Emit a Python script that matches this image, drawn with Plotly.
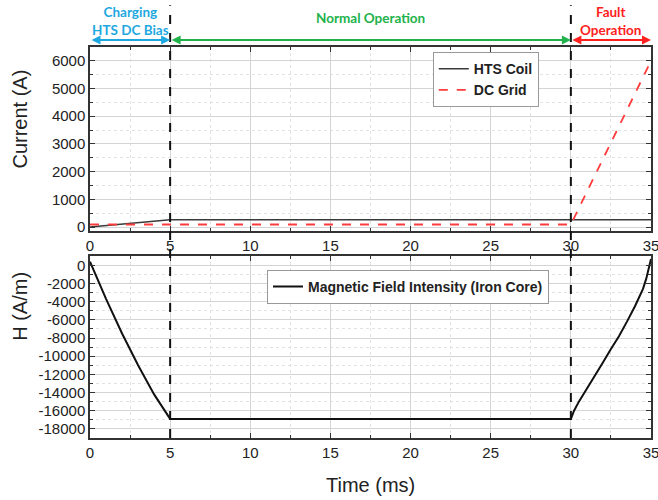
import plotly.graph_objects as go
from plotly.subplots import make_subplots

# ---- data ----
t_hts = [0, 5, 30, 35]
i_hts = [0, 260, 260, 260]
t_grid = [0, 5, 30, 35]
i_grid = [90, 90, 90, 6000]
t_h = [0, 1, 2, 3, 4, 5, 30, 30.2, 30.5, 31, 31.5, 32, 32.5, 33, 33.5, 34, 34.5, 34.7, 35]
h_val = [400, -3700, -7500, -11000, -14200, -16900, -16900, -16000, -15000, -13600,
         -12200, -10700, -9200, -7800, -6200, -4500, -2600, -1500, 700]
x_ticks = [0, 5, 10, 15, 20, 25, 30, 35]
y1_ticks = [0, 1000, 2000, 3000, 4000, 5000, 6000]
y2_ticks = [0, -2000, -4000, -6000, -8000, -10000, -12000, -14000, -16000, -18000]
phases = ["Charging<br>HTS DC Bias", "Normal Operation", "Fault<br>Operation"]
phase_bounds = [0, 5, 30, 35]

fig = make_subplots(rows=2, cols=1, shared_xaxes=False, vertical_spacing=0.0)

fig.add_trace(go.Scatter(x=t_hts, y=i_hts, mode="lines", name="HTS Coil",
                         line=dict(color="#3a3a3a", width=1.5), legend="legend"), row=1, col=1)
fig.add_trace(go.Scatter(x=t_grid, y=i_grid, mode="lines", name="DC Grid",
                         line=dict(color="#ff3b3b", width=1.8, dash="dash"), legend="legend"), row=1, col=1)
fig.add_trace(go.Scatter(x=t_h, y=h_val, mode="lines", name="Magnetic Field Intensity (Iron Core)",
                         line=dict(color="#111111", width=2), legend="legend2"), row=2, col=1)

tickfont = dict(family="Liberation Sans, Arial", size=15, color="#222")
titlefont = dict(family="Liberation Sans, Arial", size=20, color="#222")
common_axis = dict(showline=True, linecolor="#333", linewidth=1.5, mirror="allticks",
                   ticks="inside", ticklen=5, tickcolor="#333", tickwidth=1.3,
                   showgrid=True, gridcolor="#d4d4d4", gridwidth=1, zeroline=False,
                   tickfont=tickfont, automargin=False, ticklabeloverflow="allow")

xcommon = dict(common_axis, range=[0, 35], tickvals=x_ticks, ticktext=[str(v) for v in x_ticks],
               minor=dict(dtick=2.5, tick0=0, ticks="inside", ticklen=3, tickcolor="#333",
                          showgrid=True, gridcolor="#e2e2e2", griddash="dot"))
fig.update_xaxes(xcommon, row=1, col=1)
fig.update_xaxes(xcommon, row=2, col=1)
fig.update_yaxes(common_axis, row=1, col=1, range=[-150, 6500], tickvals=y1_ticks,
                 ticktext=[str(v) for v in y1_ticks],
                 minor=dict(dtick=500, tick0=0, ticks="inside", ticklen=3, tickcolor="#333",
                            showgrid=True, gridcolor="#e2e2e2", griddash="dot"))
fig.update_yaxes(common_axis, row=2, col=1, range=[-19000, 1000], tickvals=y2_ticks,
                 ticktext=[str(v) for v in y2_ticks],
                 minor=dict(dtick=1000, tick0=0, ticks="inside", ticklen=3, tickcolor="#333",
                            showgrid=True, gridcolor="#e2e2e2", griddash="dot"))

fig.layout.yaxis.domain = [0.529, 1.0]
fig.layout.yaxis2.domain = [0.0, 0.465]

# axis titles
fig.add_annotation(text="Current (A)", xref="paper", yref="paper", x=-0.1248, y=0.817,
                   textangle=-90, showarrow=False, font=titlefont, xanchor="center", yanchor="middle")
fig.add_annotation(text="H (A/m)", xref="paper", yref="paper", x=-0.1248, y=0.338,
                   textangle=-90, showarrow=False, font=titlefont, xanchor="center", yanchor="middle")
fig.add_annotation(text="Time (ms)", xref="x2", yref="paper", x=17.5, y=-0.120,
                   showarrow=False, font=titlefont, xanchor="center", yanchor="middle")

# vertical dashed phase lines
for xb in phase_bounds[1:3]:
    fig.add_shape(type="line", xref="x", yref="paper", x0=xb, x1=xb, y0=0, y1=1.107,
                  line=dict(color="#111", width=2, dash="dash"), layer="above")

colors = ["#1ea8e0", "#21b24b", "#ff2020"]
text_y = [1.019, 1.074, 1.019]
text_anchor = ["bottom", "middle", "bottom"]
for k in range(3):
    x0, x1 = phase_bounds[k], phase_bounds[k + 1]
    fig.add_annotation(x=x1, y=1.018, xref="x", yref="paper", ax=x0, ay=0, axref="x", ayref="pixel",
                       showarrow=True, arrowhead=2, startarrowhead=2, arrowside="end+start",
                       arrowsize=0.9, startarrowsize=0.9, arrowwidth=2, arrowcolor=colors[k], text="")
    fig.add_annotation(x=(x0 + x1) / 2, y=text_y[k], xref="x", yref="paper", showarrow=False,
                       text="<b>" + phases[k] + "</b>", yanchor=text_anchor[k],
                       font=dict(family="Lato", size=13.5, color=colors[k]))

legfont = dict(family="Liberation Sans, Arial", size=14, color="#222", weight="bold")
fig.update_layout(
    width=658, height=500,
    margin=dict(l=90, r=7, t=47, b=62, autoexpand=False),
    paper_bgcolor="white", plot_bgcolor="white",
    legend=dict(x=0.611, y=0.987, xanchor="left", yanchor="top", bgcolor="white",
                bordercolor="#999", borderwidth=1, font=legfont,
                tracegroupgap=0, itemwidth=30),
    legend2=dict(x=0.3155, y=0.43, xanchor="left", yanchor="top", bgcolor="white",
                 bordercolor="#999", borderwidth=1, font=legfont, itemwidth=30),
    showlegend=True,
)

fig.write_html("out.html", config={"displayModeBar": False},
               post_script="document.body.style.margin='0';document.body.style.padding='0';")
